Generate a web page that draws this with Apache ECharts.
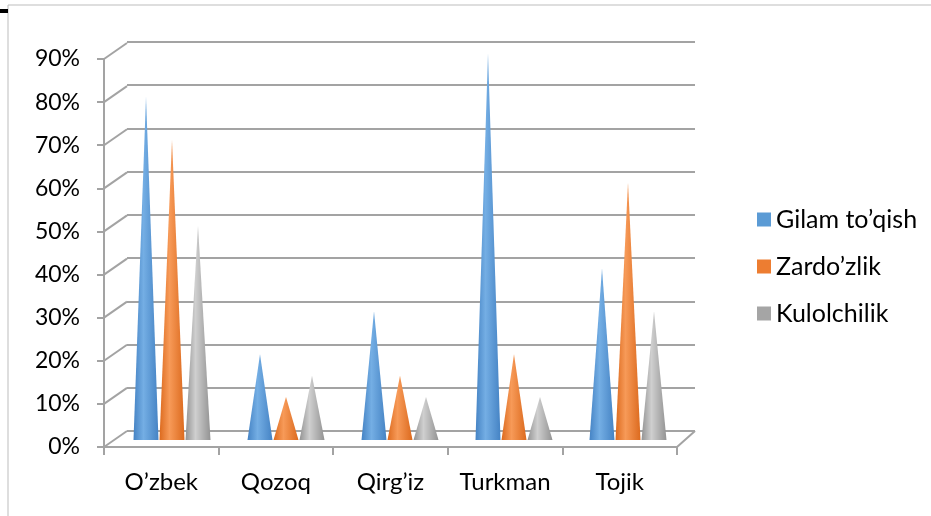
<!DOCTYPE html>
<html>
<head>
<meta charset="utf-8">
<script src="https://cdn.jsdelivr.net/npm/echarts@6/dist/echarts.min.js"></script>
<style>
  html, body { margin: 0; padding: 0; background: #fff; }
  #main { width: 931px; height: 516px; }
</style>
</head>
<body>
<div id="main"></div>
<script>
// kategoriyalar va qiymatlar (%)
var categories = ['O’zbek', 'Qozoq', 'Qirg’iz', 'Turkman', 'Tojik'];
var gilam = [80, 20, 30, 90, 40];
var zardozlik = [70, 10, 15, 20, 60];
var kulolchilik = [50, 15, 10, 10, 30];
var seriesNames = ['Gilam to’qish', 'Zardo’zlik', 'Kulolchilik'];
var yTicks = [0, 10, 20, 30, 40, 50, 60, 70, 80, 90];

var FONT = 'Lato';
var GRID_LINE = '#a3a3a3';
var DEPTH_L = [23, -16]; // chap devor chuqurligi
var DEPTH_R = [18, -16]; // o'ng pol chuqurligi

// konus rangi: chetlari to'qroq, o'rtasi yorug'roq
function cone(dark, light) {
    return new echarts.graphic.LinearGradient(0, 0, 1, 0, [
        { offset: 0, color: dark },
        { offset: 0.4, color: light },
        { offset: 1, color: dark }
    ]);
}
var colors = ['#5b9bd5', '#ed7d31', '#a5a5a5'];
var fills = [
    cone('#4583c4', '#74aee4'),
    cone('#dc6a1e', '#f79a58'),
    cone('#939393', '#cfcfcf')
];

var myChart = echarts.init(document.getElementById('main'));

function coneSeries(i, data) {
    return {
        name: seriesNames[i],
        type: 'pictorialBar',
        xAxisIndex: 2,
        yAxisIndex: 2,
        symbol: 'triangle',
        symbolSize: ['100%', '100%'],
        barWidth: 25,
        barGap: '4%',
        itemStyle: { color: fills[i] },
        data: data,
        z: 5
    };
}

var options = {
    animation: false,
    textStyle: { fontFamily: FONT },
    graphic: [
        // hujjatdagi ramka
        { type: 'rect', shape: { x: 8, y: 5, width: 940, height: 530 },
          style: { fill: 'none', stroke: '#bdbdbd', lineWidth: 1 }, silent: true },
        { type: 'rect', shape: { x: 0, y: 9, width: 8, height: 4 },
          style: { fill: '#000' }, silent: true }
    ],
    legend: {
        orient: 'vertical',
        left: 752,
        top: 202,
        itemWidth: 14,
        itemHeight: 14,
        itemGap: 22,
        icon: 'rect',
        textStyle: { fontFamily: FONT, fontSize: 25, color: '#000' },
        data: seriesNames.map(function (n, i) {
            return { name: n, itemStyle: { color: colors[i] } };
        })
    },
    grid: [
        // old tekislik (o'qlar)
        { left: 104, right: 254, top: 59, bottom: 69 },
        // orqa devor
        { left: 127, right: 236, top: 42, bottom: 85 },
        // konuslar
        { left: 115, right: 246, top: 54, bottom: 76 }
    ],
    xAxis: [
        {
            gridIndex: 0, type: 'category', data: categories,
            axisLine: { lineStyle: { color: GRID_LINE, width: 2 } },
            axisTick: { show: true, length: 8, alignWithLabel: false, lineStyle: { color: GRID_LINE, width: 2 } },
            axisLabel: { color: '#000', fontSize: 24, fontFamily: FONT, margin: 23, interval: 0, hideOverlap: false }
        },
        {
            gridIndex: 1, type: 'category', data: categories, show: false
        },
        {
            gridIndex: 2, type: 'category', data: categories, show: false
        }
    ],
    yAxis: [
        {
            gridIndex: 0, type: 'value', min: 0, max: 90, interval: 10,
            axisLine: { show: true, lineStyle: { color: GRID_LINE, width: 2 } },
            axisTick: { show: true, length: 7, lineStyle: { color: GRID_LINE, width: 2 } },
            axisLabel: { color: '#000', fontSize: 23, fontFamily: FONT, margin: 24, formatter: '{value}%' },
            splitLine: { show: false }
        },
        {
            gridIndex: 1, type: 'value', min: 0, max: 90, interval: 10,
            axisLine: { show: false }, axisTick: { show: false }, axisLabel: { show: false },
            splitLine: { show: true, lineStyle: { color: GRID_LINE, width: 2 } }
        },
        {
            gridIndex: 2, type: 'value', min: 0, max: 90, interval: 10, show: false
        }
    ],
    series: [
        {
            // chap devor va pol chetlari
            type: 'custom',
            xAxisIndex: 0,
            yAxisIndex: 0,
            silent: true,
            data: yTicks.map(function (v) { return [0, v]; }),
            renderItem: function (params, api) {
                var band = api.size([1, 0])[0];
                var p = api.coord([0, api.value(1)]);
                var x0 = p[0] - band / 2;
                var children = [{
                    type: 'line',
                    shape: { x1: x0, y1: p[1], x2: x0 + DEPTH_L[0], y2: p[1] + DEPTH_L[1] },
                    style: { stroke: GRID_LINE, lineWidth: 2 }
                }];
                if (api.value(1) === 0) {
                    var q = api.coord([categories.length - 1, 0]);
                    var x1 = q[0] + band / 2;
                    children.push({
                        type: 'line',
                        shape: { x1: x1, y1: q[1], x2: x1 + DEPTH_R[0], y2: q[1] + DEPTH_R[1] },
                        style: { stroke: GRID_LINE, lineWidth: 2 }
                    });
                }
                return { type: 'group', children: children };
            }
        },
        coneSeries(0, gilam),
        coneSeries(1, zardozlik),
        coneSeries(2, kulolchilik)
    ]
};
myChart.setOption(options);
</script>
</body>
</html>
